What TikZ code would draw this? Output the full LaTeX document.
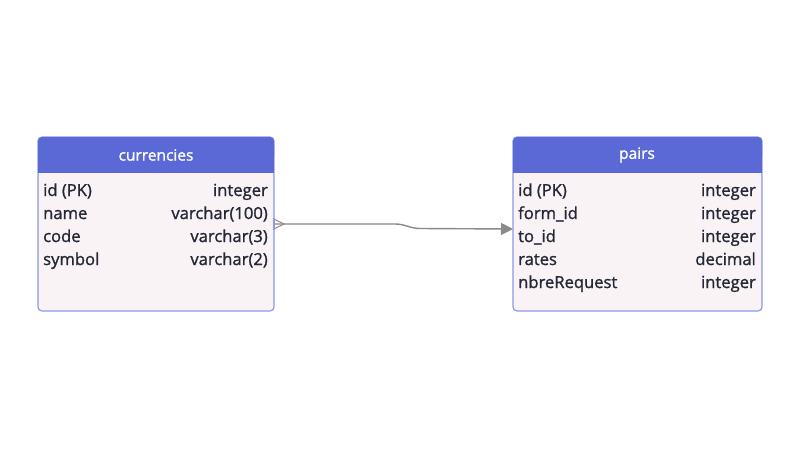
\documentclass[tikz,border=0pt]{standalone}
\usepackage{fontspec}
\setmainfont{Open Sans}
\newfontfamily\tblfont{Open Sans}[FakeBold=1.3]
\usetikzlibrary{arrows.meta}
\definecolor{hdr}{HTML}{5A69D6}
\definecolor{bodyfill}{HTML}{F9F3F6}
\definecolor{edge}{HTML}{8E98EA}
\definecolor{txt}{HTML}{252836}
\definecolor{conn}{HTML}{8A8A8A}
\tikzset{
  tbl/.style={draw=edge, line width=1.2pt, fill=bodyfill, rounded corners=4pt},
  hdrtxt/.style={text=white, font=\tblfont\fontsize{15.5}{18}\selectfont, inner sep=0pt},
  fld/.style={text=txt, font=\tblfont\fontsize{16.6}{18}\selectfont, inner sep=0pt, anchor=base west},
  typ/.style={text=txt, font=\tblfont\fontsize{16.6}{18}\selectfont, inner sep=0pt, anchor=base east},
}
\begin{document}
\begin{tikzpicture}[x=1pt,y=-1pt]
\useasboundingbox[fill=white] (0,0) rectangle (800,450);
% left table
\path[tbl] (38,137) rectangle (274,311);
\path[fill=hdr, rounded corners=4pt] (38,160) -- (38,137) -- (274,137) -- (274,160) -- cycle;
\fill[hdr] (38,155) rectangle (274,173);
\node[hdrtxt] (curT) at (156,155) {currencies};
\node[fld] (c1) at (43,196) {id (PK)};
\node[typ] (c1t) at (268,196) {integer};
\node[fld] (c2) at (43,219) {name};
\node[typ] (c2t) at (268,219) {varchar(100)};
\node[fld] (c3) at (43,242) {code};
\node[typ] (c3t) at (268,242) {varchar(3)};
\node[fld] (c4) at (43,265) {symbol};
\node[typ] (c4t) at (268,265) {varchar(2)};
\coordinate (L) at (274,224);
% right table
\path[tbl] (513,137) rectangle (762,311);
\path[fill=hdr, rounded corners=4pt] (513,160) -- (513,137) -- (762,137) -- (762,160) -- cycle;
\fill[hdr] (513,155) rectangle (762,173);
\node[hdrtxt] (pairT) at (637,155) {pairs};
\node[fld] (p1) at (518,196) {id (PK)};
\node[typ] (p1t) at (756,196) {integer};
\node[fld] (p2) at (518,219) {form\_id};
\node[typ] (p2t) at (756,219) {integer};
\node[fld] (p3) at (518,242) {to\_id};
\node[typ] (p3t) at (756,242) {integer};
\node[fld] (p4) at (518,265) {rates};
\node[typ] (p4t) at (756,265) {decimal};
\node[fld] (p5) at (518,288) {nbreRequest};
\node[typ] (p5t) at (756,288) {integer};
\coordinate (R) at (513,229);
% connector
\coordinate (m1) at (395,224);
\coordinate (m2) at (420,228.5);
\draw[conn, line width=1.4pt, -{Triangle[length=12pt,width=12pt]}]
  (L) -- (m1) .. controls (405,224) and (410,228.5) .. (m2) -- (R);
\draw[conn, line width=1pt] (L) ++(0,-5) -- ++(10,5) -- ++(-10,5);
\draw[edge, line width=1.2pt] (L) ++(0,-6) -- ++(0,12);
\end{tikzpicture}
\end{document}
